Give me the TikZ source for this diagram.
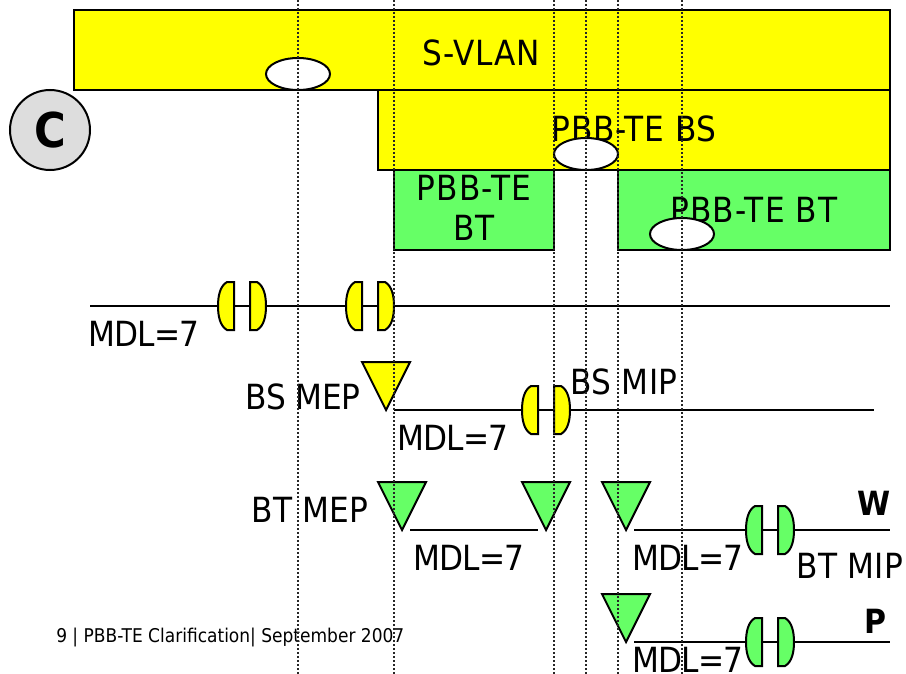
\documentclass[tikz,border=0pt]{standalone}
\usepackage{fontspec}
\setmainfont{DejaVu Sans Condensed}
\usetikzlibrary{shapes.geometric}
\definecolor{ylw}{RGB}{255,255,0}
\definecolor{grn}{RGB}{102,255,102}
\definecolor{gry}{RGB}{221,221,221}
\tikzset{
  x=0.75pt,y=-0.75pt,
  band/.style={draw=black,line width=1.5pt,inner sep=0pt,outer sep=0pt,anchor=north west},
  ybox/.style={band,fill=ylw},
  gbox/.style={band,fill=grn},
  spaced/.style={inner sep=0pt,align=center,font=\fontsize{26}{30}\selectfont\addfontfeature{LetterSpace=#1}},
  lbl/.style={spaced=-2.4},
  bold/.style={inner sep=0pt,font=\fontsize{25}{29}\selectfont\bfseries},
  hole/.style={draw=black,line width=1.5pt,fill=white,ellipse,minimum width=48pt,minimum height=24pt,inner sep=0pt,outer sep=0pt},
  guide/.style={black!85,line width=1.3pt,dash pattern=on 1.2pt off 1.8pt},
  wire/.style={black,line width=1.2pt},
  tri/.style={draw=black,line width=1.5pt,line join=miter},
  lens/.style={draw=black,line width=1.5pt},
}
\newcommand{\mippair}[4]{% name, x, y, colour
  \coordinate (#1) at (#2+24,#3+24);
  \path[lens,fill=#4] (#2+16,#3) -- (#2+16,#3+48) -- (#2+9,#3+48)
     .. controls (#2+2,#3+44) and (#2,#3+34) .. (#2,#3+24)
     .. controls (#2,#3+14) and (#2+2,#3+4) .. (#2+9,#3) -- cycle;
  \path[lens,fill=#4] (#2+32,#3) -- (#2+32,#3+48) -- (#2+39,#3+48)
     .. controls (#2+46,#3+44) and (#2+48,#3+34) .. (#2+48,#3+24)
     .. controls (#2+48,#3+14) and (#2+46,#3+4) .. (#2+39,#3) -- cycle;
}
\newcommand{\mep}[4]{% name, left x, top y, colour
  \path[tri,fill=#4] (#2,#3) -- (#2+48,#3) -- (#2+24,#3+48) -- cycle;
  \coordinate (#1) at (#2+24,#3+48);
}
\begin{document}
\begin{tikzpicture}
\useasboundingbox (0,0) rectangle (906,674);
% bands
\node[ybox,minimum width=612pt,minimum height=60pt] (svlan) at (74,10) {};
\node[ybox,minimum width=384pt,minimum height=60pt] (bs) at (378,90) {};
\node[gbox,minimum width=120pt,minimum height=60pt] (bta) at (394,170) {};
\node[gbox,minimum width=204pt,minimum height=60pt] (btb) at (618,170) {};
\node[draw=black,line width=1.5pt,fill=gry,circle,minimum size=60pt,inner sep=0pt,outer sep=0pt] (c) at (50,130) {};
\node[inner sep=0pt,font=\fontsize{36}{40}\selectfont\bfseries] (ctext) at (50,130) {C};
\node[spaced=2.1] (t1) at (481,53) {S-VLAN};
\node[spaced=2.6] (t2) at (634,129) {PBB-TE BS};
\node[spaced=3.6] (t3) at (474,208) {PBB-TE\\BT};
\node[spaced=3.6] (t4) at (754,210) {PBB-TE BT};
\node[hole] (h1) at (298,74) {};
\node[hole] (h2) at (586,154) {};
\node[hole] (h3) at (682,234) {};
% wires
\coordinate (w1a) at (90,306); \coordinate (w1b) at (890,306);
\coordinate (w2a) at (394,410); \coordinate (w2b) at (874,410);
\coordinate (w3a) at (410,530); \coordinate (w3b) at (538,530);
\coordinate (w4a) at (634,530); \coordinate (w4b) at (890,530);
\coordinate (w5a) at (634,642); \coordinate (w5b) at (890,642);
\draw[wire] (w1a) -- (w1b);
\draw[wire] (w2a) -- (w2b);
\draw[wire] (w3a) -- (w3b);
\draw[wire] (w4a) -- (w4b);
\draw[wire] (w5a) -- (w5b);
% MIPs and MEPs
\mippair{m1}{218}{282}{ylw}
\mippair{m2}{346}{282}{ylw}
\mippair{m3}{522}{386}{ylw}
\mippair{m4}{746}{506}{grn}
\mippair{m5}{746}{618}{grn}
\mep{e1}{362}{362}{ylw}
\mep{e2}{378}{482}{grn}
\mep{e3}{522}{482}{grn}
\mep{e4}{602}{482}{grn}
\mep{e5}{602}{594}{grn}
% labels
\node[lbl] (l1) at (144,334) {MDL=7};
\node[spaced=-0.9] (l2) at (303,397) {BS MEP};
\node[spaced=1.1] (l3) at (624,382) {BS MIP};
\node[lbl] (l4) at (453,438) {MDL=7};
\node[spaced=1.1] (l5) at (310,510) {BT MEP};
\node[lbl] (l6) at (469,558) {MDL=7};
\node[lbl] (l7) at (688,558) {MDL=7};
\node[spaced=1.1] (l8) at (850,566) {BT MIP};
\node[bold] (l9) at (874,503) {W};
\node[bold] (l10) at (875,621) {P};
\node[lbl] (l11) at (688,660) {MDL=7};
\node[inner sep=0pt,anchor=west,font=\fontsize{14.2}{16}\selectfont] (foot) at (56,637) {9 | PBB-TE Clarification| September 2007};
% guides
\foreach \gx in {298,394,554,586,618,682}
  \draw[guide] (\gx,0) -- (\gx,674);
\end{tikzpicture}
\end{document}
